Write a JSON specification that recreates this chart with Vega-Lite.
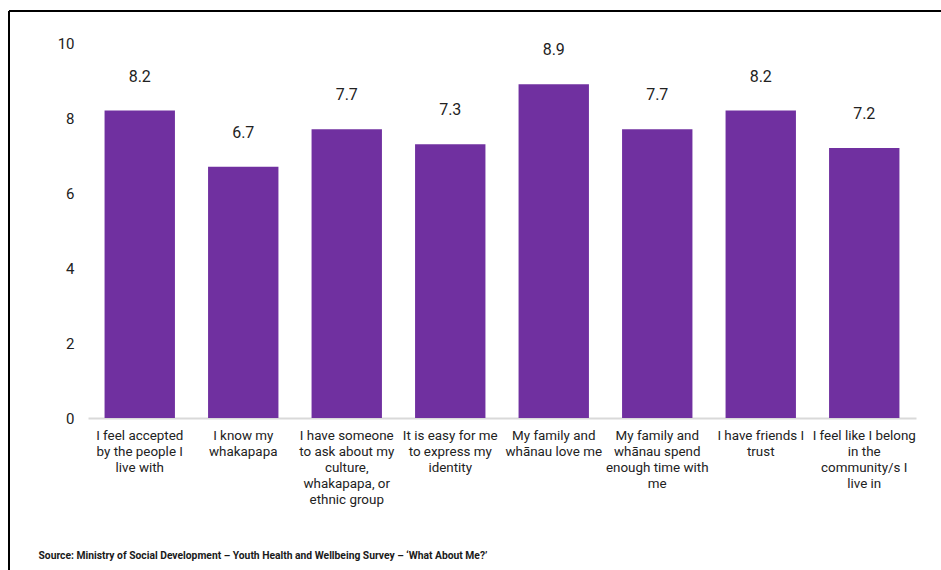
{
  "$schema": "https://vega.github.io/schema/vega-lite/v6.json",
  "autosize": "none",
  "padding": {"left": 9, "top": 11, "right": 0, "bottom": 0},
  "width": 932,
  "height": 559,
  "background": "white",
  "config": {
    "view": {"stroke": "black", "strokeWidth": 2, "strokeDash": [932, 1491, 559, 0]},
    "font": "Roboto"
  },
  "data": {
    "values": [
      {"statement": "I feel accepted|by the people I|live with", "score": 8.2},
      {"statement": "I know my|whakapapa", "score": 6.7},
      {"statement": "I have someone|to ask about my|culture,|whakapapa, or|ethnic group", "score": 7.7},
      {"statement": "It is easy for me|to express my|identity", "score": 7.3},
      {"statement": "My family and|whānau love me", "score": 8.9},
      {"statement": "My family and|whānau spend|enough time with|me", "score": 7.7},
      {"statement": "I have friends I|trust", "score": 8.2},
      {"statement": "I feel like I belong|in the|community/s I|live in", "score": 7.2}
    ]
  },
  "encoding": {
    "x": {
      "field": "statement",
      "type": "nominal",
      "sort": null,
      "scale": {"range": [79, 907], "paddingInner": 0.32, "paddingOuter": 0.16},
      "axis": {
        "title": "Source: Ministry of Social Development – Youth Health and Wellbeing Survey – ‘What About Me?’",
        "titleX": 29,
        "titleY": 137,
        "titleAlign": "left",
        "titleBaseline": "middle",
        "titleFontSize": 10.3,
        "titleFontWeight": "bold",
        "titleColor": "#1a1a1a",
        "titleFont": "Roboto",
        "offset": -152,
        "labelExpr": "split(datum.label, '|')",
        "labelAngle": 0,
        "labelAlign": "center",
        "labelBaseline": "top",
        "labelFontSize": 13.4,
        "labelLineHeight": 16,
        "labelColor": "#222222",
        "labelPadding": 10,
        "labelLimit": 200,
        "ticks": false,
        "domainColor": "#d9d9d9",
        "domainWidth": 2,
        "grid": false
      }
    },
    "y": {
      "field": "score",
      "type": "quantitative",
      "scale": {"domain": [0, 10], "range": [407, 32], "nice": false},
      "axis": {
        "title": null,
        "values": [0, 2, 4, 6, 8, 10],
        "offset": -65,
        "labelPadding": 0,
        "tickSize": 0,
        "ticks": false,
        "domain": false,
        "grid": false,
        "labelFontSize": 15,
        "labelColor": "#222222",
        "labelBaseline": "middle"
      }
    }
  },
  "layer": [
    {"mark": {"type": "bar", "color": "#7030A0"}},
    {
      "mark": {"type": "text", "dy": -29, "baseline": "alphabetic", "fontSize": 16, "color": "#222222"},
      "encoding": {"text": {"field": "score", "type": "quantitative", "format": ".1f"}}
    }
  ]
}
